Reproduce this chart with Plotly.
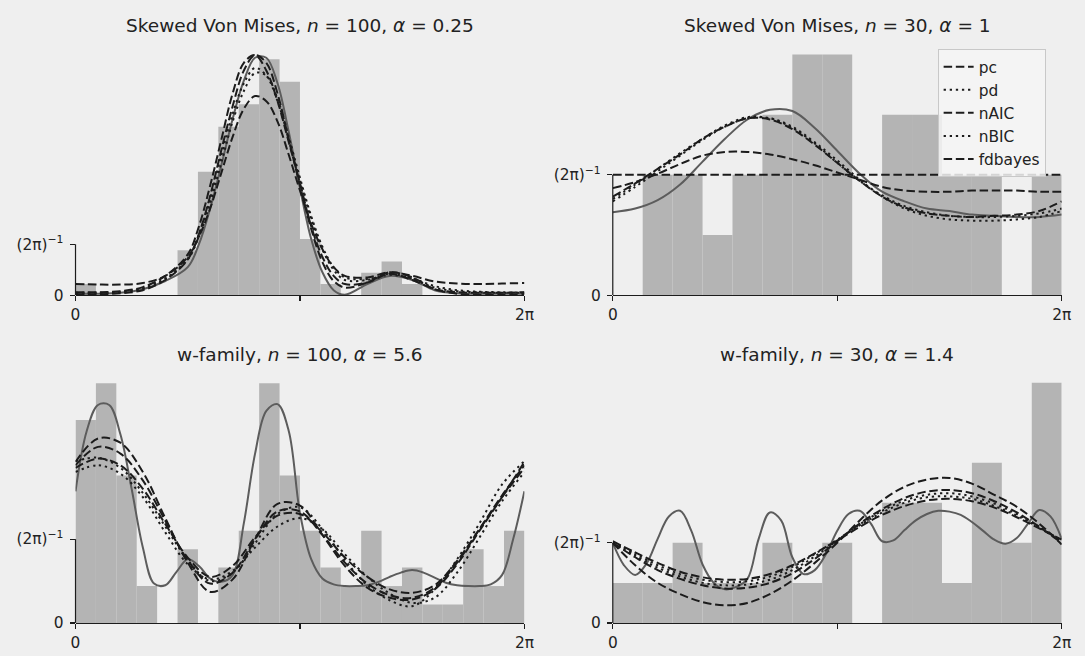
import numpy as np
import plotly.graph_objects as go

TWO_PI = 2 * np.pi

# ---------------- Histogram counts (equal-width bins over [0, 2π)) ----------------
TL_N = 100
TL_COUNTS = [1, 0, 0, 0, 0, 4, 11, 15, 17, 21, 19, 5, 1, 0, 2, 3, 1, 0, 0, 0, 0, 0]
TR_N = 30
TR_COUNTS = [0, 2, 2, 1, 2, 3, 4, 4, 0, 3, 3, 2, 2, 0, 2]
BL_N = 100
BL_COUNTS = [11, 13, 8, 2, 0, 4, 0, 3, 5, 13, 8, 5, 3, 2, 5, 2, 3, 1, 1, 4, 2, 5]
BR_N = 30
BR_COUNTS = [1, 1, 2, 1, 1, 2, 1, 2, 0, 3, 3, 1, 4, 2, 6]

# ---------------- Curves: angle as fraction of a full turn; density in units of (2π)^-1 ----------------
TL_T = [0, 0.05, 0.1, 0.15, 0.2, 0.25, 0.275, 0.3, 0.325, 0.35, 0.375, 0.4, 0.425, 0.45,
        0.475, 0.5, 0.525, 0.55, 0.575, 0.6, 0.65, 0.7, 0.75, 0.8, 0.85, 0.9, 0.95, 1.0]
TL_TRUE = [0.03, 0.03, 0.05, 0.12, 0.28, 0.55, 1.0, 1.7, 2.55, 3.45, 4.2, 4.65, 4.65, 4.15,
           3.2, 2.1, 1.1, 0.45, 0.1, 0.01, 0.22, 0.38, 0.3, 0.1, 0.04, 0.03, 0.03, 0.03]
TL_PC = [0.06, 0.06, 0.08, 0.16, 0.38, 0.8, 1.35, 2.15, 3.05, 3.95, 4.55, 4.7, 4.4, 3.8,
         3.0, 2.2, 1.35, 0.75, 0.38, 0.22, 0.25, 0.42, 0.3, 0.12, 0.06, 0.05, 0.05, 0.06]
TL_PD = [0.04, 0.04, 0.06, 0.13, 0.32, 0.72, 1.2, 1.9, 2.75, 3.55, 4.15, 4.45, 4.3, 3.8,
         3.05, 2.25, 1.5, 0.9, 0.5, 0.3, 0.3, 0.42, 0.32, 0.15, 0.08, 0.06, 0.05, 0.05]
TL_NAIC = [0.02, 0.02, 0.04, 0.1, 0.3, 0.7, 1.2, 1.95, 2.85, 3.7, 4.4, 4.7, 4.55, 3.95,
           3.05, 2.15, 1.3, 0.65, 0.28, 0.15, 0.25, 0.45, 0.35, 0.12, 0.03, 0.01, 0.01, 0.02]
TL_NBIC = [0.05, 0.05, 0.07, 0.14, 0.33, 0.7, 1.15, 1.8, 2.6, 3.4, 4.0, 4.35, 4.3, 3.85,
           3.1, 2.3, 1.55, 0.95, 0.55, 0.35, 0.32, 0.4, 0.33, 0.18, 0.1, 0.07, 0.06, 0.05]
TL_FDB = [0.22, 0.21, 0.21, 0.24, 0.38, 0.75, 1.15, 1.7, 2.4, 3.1, 3.65, 3.9, 3.8, 3.4,
          2.75, 2.05, 1.4, 0.9, 0.55, 0.38, 0.35, 0.45, 0.38, 0.27, 0.23, 0.22, 0.23, 0.24]

T21 = [0, 0.05, 0.1, 0.15, 0.2, 0.25, 0.3, 0.35, 0.4, 0.45, 0.5,
       0.55, 0.6, 0.65, 0.7, 0.75, 0.8, 0.85, 0.9, 0.95, 1.0]
T41 = [0, 0.025, 0.05, 0.075, 0.1, 0.125, 0.15, 0.175, 0.2, 0.225, 0.25, 0.275, 0.3, 0.325,
       0.35, 0.375, 0.4, 0.425, 0.45, 0.475, 0.5, 0.525, 0.55, 0.575, 0.6, 0.625, 0.65, 0.675,
       0.7, 0.725, 0.75, 0.775, 0.8, 0.825, 0.85, 0.875, 0.9, 0.925, 0.95, 0.975, 1.0]

TR_TRUE = [0.69, 0.72, 0.79, 0.92, 1.11, 1.30, 1.46, 1.54, 1.53, 1.39, 1.2,
           1.01, 0.86, 0.78, 0.72, 0.70, 0.67, 0.66, 0.65, 0.65, 0.67]
TR_PC = [0.82, 0.93, 1.05, 1.17, 1.3, 1.4, 1.47, 1.46, 1.38, 1.25, 1.1,
         0.95, 0.82, 0.73, 0.68, 0.66, 0.65, 0.66, 0.67, 0.7, 0.78]
TR_PD = [0.78, 0.9, 1.03, 1.16, 1.29, 1.4, 1.47, 1.47, 1.4, 1.27, 1.12,
         0.96, 0.82, 0.72, 0.66, 0.63, 0.62, 0.62, 0.63, 0.65, 0.7]
TR_NAIC = [0.89, 0.94, 1.01, 1.09, 1.16, 1.19, 1.19, 1.17, 1.13, 1.08, 1.02,
           0.96, 0.9, 0.87, 0.86, 0.86, 0.87, 0.87, 0.87, 0.86, 0.86]
TR_NBIC = [0.8, 0.92, 1.05, 1.18, 1.3, 1.41, 1.48, 1.47, 1.39, 1.26, 1.1,
           0.95, 0.83, 0.74, 0.69, 0.66, 0.65, 0.65, 0.66, 0.68, 0.72]
TR_FDB = [1.0, 1.0, 1.0, 1.0, 1.0, 1.0, 1.0, 1.0, 1.0, 1.0, 1.0,
          1.0, 1.0, 1.0, 1.0, 1.0, 1.0, 1.0, 1.0, 1.0, 1.0]

BL_TRUE = [1.57, 2.29, 2.6, 2.6, 2.25, 1.6, 0.9, 0.47, 0.45, 0.61, 0.76, 0.68, 0.53, 0.49,
           0.57, 1.19, 2.02, 2.53, 2.61, 2.29, 1.31, 0.76, 0.53, 0.46, 0.44, 0.44, 0.45, 0.49,
           0.55, 0.6, 0.63, 0.6, 0.54, 0.48, 0.45, 0.44, 0.44, 0.46, 0.57, 1.0, 1.57]
BL_PC = [1.92, 2.2, 2.15, 1.8, 1.25, 0.72, 0.37, 0.52, 1.0, 1.42, 1.4,
         1.05, 0.68, 0.42, 0.3, 0.28, 0.4, 0.7, 1.1, 1.5, 1.92]
BL_PD = [1.93, 1.97, 1.85, 1.55, 1.15, 0.75, 0.5, 0.6, 0.95, 1.3, 1.38,
         1.12, 0.75, 0.45, 0.27, 0.2, 0.4, 0.76, 1.19, 1.65, 1.93]
BL_NAIC = [1.88, 2.1, 2.02, 1.7, 1.22, 0.75, 0.47, 0.6, 1.0, 1.33, 1.33,
           1.05, 0.72, 0.47, 0.33, 0.3, 0.42, 0.72, 1.12, 1.52, 1.88]
BL_NBIC = [1.8, 1.88, 1.78, 1.5, 1.08, 0.7, 0.52, 0.62, 0.9, 1.15, 1.25,
           1.12, 0.82, 0.55, 0.35, 0.24, 0.3, 0.6, 1.02, 1.45, 1.8]
BL_FDB = [1.85, 1.96, 1.88, 1.6, 1.18, 0.78, 0.55, 0.68, 1.02, 1.28, 1.3,
          1.08, 0.78, 0.55, 0.4, 0.36, 0.45, 0.74, 1.12, 1.5, 1.85]

BR_TRUE = [1.0, 0.72, 0.6, 0.74, 1.05, 1.33, 1.4, 1.15, 0.73, 0.5, 0.42, 0.45, 0.55, 1.05,
           1.38, 1.28, 0.82, 0.61, 0.66, 0.86, 1.15, 1.36, 1.4, 1.24, 1.02, 1.03, 1.16, 1.28,
           1.36, 1.4, 1.39, 1.35, 1.26, 1.15, 1.04, 0.99, 1.06, 1.24, 1.41, 1.33, 1.05]
BR_PC = [1.0, 0.72, 0.5, 0.36, 0.26, 0.22, 0.25, 0.36, 0.53, 0.75, 1.0,
         1.28, 1.53, 1.7, 1.79, 1.81, 1.74, 1.6, 1.45, 1.24, 0.98]
BR_PD = [1.0, 0.84, 0.69, 0.58, 0.5, 0.47, 0.48, 0.54, 0.66, 0.83, 1.03,
         1.23, 1.4, 1.53, 1.6, 1.62, 1.58, 1.49, 1.36, 1.2, 1.02]
BR_NAIC = [1.0, 0.82, 0.66, 0.55, 0.47, 0.43, 0.44, 0.5, 0.62, 0.8, 1.02,
           1.24, 1.42, 1.56, 1.64, 1.66, 1.62, 1.52, 1.38, 1.2, 1.0]
BR_NBIC = [1.01, 0.86, 0.72, 0.61, 0.54, 0.51, 0.52, 0.58, 0.7, 0.86, 1.04,
           1.22, 1.38, 1.5, 1.57, 1.58, 1.55, 1.46, 1.34, 1.19, 1.03]
BR_FDB = [1.02, 0.88, 0.75, 0.64, 0.57, 0.54, 0.55, 0.61, 0.72, 0.87, 1.03,
          1.2, 1.35, 1.46, 1.53, 1.55, 1.52, 1.44, 1.32, 1.18, 1.04]

TITLES = ["Skewed Von Mises, <i>n</i> = 100, <i>α</i> = 0.25",
          "Skewed Von Mises, <i>n</i> = 30, <i>α</i> = 1",
          "w-family, <i>n</i> = 100, <i>α</i> = 5.6",
          "w-family, <i>n</i> = 30, <i>α</i> = 1.4"]
EST_NAMES = ["pc", "pd", "nAIC", "nBIC", "fdbayes"]

# ---------------- styling ----------------
FONT = "DejaVu Sans"
INK = "#1c1c1c"
BAR_COLOR = "#b4b4b4"
TRUE_COLOR = "#5c5c5c"
DASHED = "8.5px,3.7px"
DOTTED = "2.3px,3.8px"
EST_DASH = {"pc": DASHED, "pd": DOTTED, "nAIC": DASHED, "nBIC": DOTTED, "fdbayes": DASHED}
W, H = 1085, 656

panels = [
    dict(ax="", counts=TL_COUNTS, n=TL_N, t_true=TL_T, true=TL_TRUE, t_est=TL_T,
         est=[TL_PC, TL_PD, TL_NAIC, TL_NBIC, TL_FDB], legend=False),
    dict(ax="2", counts=TR_COUNTS, n=TR_N, t_true=T21, true=TR_TRUE, t_est=T21,
         est=[TR_PC, TR_PD, TR_NAIC, TR_NBIC, TR_FDB], legend=True),
    dict(ax="3", counts=BL_COUNTS, n=BL_N, t_true=T41, true=BL_TRUE, t_est=T21,
         est=[BL_PC, BL_PD, BL_NAIC, BL_NBIC, BL_FDB], legend=False),
    dict(ax="4", counts=BR_COUNTS, n=BR_N, t_true=T41, true=BR_TRUE, t_est=T21,
         est=[BR_PC, BR_PD, BR_NAIC, BR_NBIC, BR_FDB], legend=False),
]

fig = go.Figure()
for p in panels:
    xa, ya = "x" + p["ax"], "y" + p["ax"]
    nb = len(p["counts"])
    w = TWO_PI / nb
    centers = [(k + 0.5) * w for k in range(nb)]
    heights = [c / (p["n"] * w) for c in p["counts"]]
    fig.add_trace(go.Bar(x=centers, y=heights, width=w, xaxis=xa, yaxis=ya,
                         marker=dict(color=BAR_COLOR, line=dict(width=0)),
                         showlegend=False, hoverinfo="skip"))
    fig.add_trace(go.Scatter(x=[t * TWO_PI for t in p["t_true"]],
                             y=[v / TWO_PI for v in p["true"]],
                             mode="lines", xaxis=xa, yaxis=ya, showlegend=False,
                             line=dict(color=TRUE_COLOR, width=2, shape="spline", smoothing=1)))
    for name, vals in zip(EST_NAMES, p["est"]):
        fig.add_trace(go.Scatter(x=[t * TWO_PI for t in p["t_est"]],
                                 y=[v / TWO_PI for v in vals],
                                 mode="lines", xaxis=xa, yaxis=ya, name=name,
                                 legendgroup=name, showlegend=p["legend"],
                                 line=dict(color=INK, width=2, dash=EST_DASH[name],
                                           shape="spline", smoothing=1)))

# axes geometry (pixels -> paper fractions)
xdom_left = [71.5 / W, 526.7 / W]
xdom_right = [616.3 / W, 1071.5 / W]
ydom_top = [(H - 299.4) / H, (H - 43) / H]
ydom_bot = [(H - 631.6) / H, (H - 376) / H]
# top of each y axis, in units of (2π)^-1
ytop = {"": 4.95, "2": 2.1, "3": 3.007, "4": 3.148}

tickfont = dict(family=FONT, size=15.4, color="#222")


def xaxis(dom, anchor):
    return dict(domain=dom, anchor=anchor, range=[0, TWO_PI], tickvals=[0, TWO_PI],
                ticktext=["0", "2π"], ticks="outside", ticklen=5, tickwidth=1.2,
                tickcolor=INK, showline=True, linecolor=INK, linewidth=1.2,
                minor=dict(tickvals=[np.pi], ticks="outside", ticklen=5, tickwidth=1.2,
                           tickcolor=INK, showgrid=False),
                showgrid=False, zeroline=False, tickfont=tickfont, fixedrange=True)


def yaxis(dom, top, anchor):
    return dict(domain=dom, anchor=anchor, range=[0, top / TWO_PI], tickvals=[0, 1 / TWO_PI],
                ticktext=["0", "(2π)<sup>−1</sup>"], ticks="outside", ticklen=5,
                tickwidth=1.2, tickcolor=INK, showline=False, showgrid=False,
                zeroline=False, tickfont=tickfont, ticklabelstandoff=3, fixedrange=True)


layout = dict(
    width=W, height=H, margin=dict(l=0, r=0, t=0, b=0),
    paper_bgcolor="#efefef", plot_bgcolor="rgba(0,0,0,0)",
    barmode="overlay", showlegend=True,
    xaxis=xaxis(xdom_left, "y"), yaxis=yaxis(ydom_top, ytop[""], "x"),
    xaxis2=xaxis(xdom_right, "y2"), yaxis2=yaxis(ydom_top, ytop["2"], "x2"),
    xaxis3=xaxis(xdom_left, "y3"), yaxis3=yaxis(ydom_bot, ytop["3"], "x3"),
    xaxis4=xaxis(xdom_right, "y4"), yaxis4=yaxis(ydom_bot, ytop["4"], "x4"),
    legend=dict(x=945.7 / W, y=(H - 50) / H, xanchor="left", yanchor="top",
                bgcolor="rgba(244,244,244,0.85)", bordercolor="#c8c8c8", borderwidth=1,
                font=dict(family=FONT, size=15.4, color="#222"), tracegroupgap=0,
                itemwidth=30),
)
fig.update_layout(**layout)

# trimmed left spines (0 .. (2π)^-1)
for ax in ["", "2", "3", "4"]:
    fig.add_shape(type="line", xref=f"x{ax} domain", yref=f"y{ax}", x0=0, x1=0,
                  y0=0, y1=1 / TWO_PI, line=dict(color=INK, width=1.2), layer="above")

# subplot titles
title_pos = [((71.5 + 526.7) / 2, 26), ((616.3 + 1071.5) / 2, 26),
             ((71.5 + 526.7) / 2, 359), ((616.3 + 1071.5) / 2, 359)]
for text, (px, py) in zip(TITLES, title_pos):
    fig.add_annotation(text=text, x=px / W, y=(H - py) / H, xref="paper", yref="paper",
                       xanchor="center", yanchor="middle", showarrow=False,
                       font=dict(family=FONT, size=18.5, color="#222"))

fig.write_html("out.html",
               config={"displayModeBar": False, "staticPlot": True},
               post_script="document.body.style.margin='0';"
                           "document.documentElement.style.overflow='hidden';"
                           "document.body.style.overflow='hidden';")
